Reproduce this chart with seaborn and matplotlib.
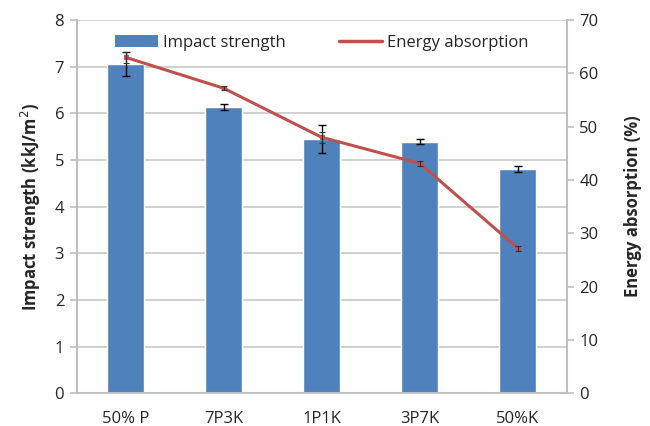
import numpy as np
import pandas as pd
import matplotlib.pyplot as plt
import seaborn as sns
from matplotlib.patches import Patch
from matplotlib.lines import Line2D

# Values
samples = ['50% P', '7P3K', '1P1K', '3P7K', '50%K']
impact = [7.06, 6.14, 5.45, 5.39, 4.81]
impact_err = [0.25, 0.06, 0.30, 0.05, 0.07]
energy = [63.0, 57.2, 48.0, 43.1, 27.2]
energy_err = [1.0, 0.4, 1.0, 0.4, 0.5]

df = pd.DataFrame({'Sample': samples, 'Impact': impact, 'Energy': energy})
df['pos'] = np.arange(len(samples))

sns.set_style("white")
plt.rcParams['font.family'] = ['Open Sans', 'DejaVu Sans']

bar_color = '#4F81BD'
line_color = '#C0504D'
axis_grey = '#BFBFBF'
fs = 12

fig = plt.figure(figsize=(6.5, 4.26), dpi=100)
ax = fig.add_axes([0.118, 0.077, 0.754, 0.876])

sns.barplot(data=df, x='Sample', y='Impact', color=bar_color, width=0.38,
            saturation=1, ax=ax, zorder=2)
ax.errorbar(df['pos'], df['Impact'], yerr=impact_err, fmt='none',
            ecolor='black', elinewidth=1, capsize=3, capthick=1, zorder=4)

ax.set_xlim(-0.5, len(samples) - 0.5)
ax.set_ylim(0, 8)
ax.set_yticks(range(0, 9))
ax.yaxis.grid(True, color='#C8C8C8', linewidth=1.2, zorder=0)
ax.set_axisbelow(True)
ax.set_xlabel('')
ax.set_ylabel('Impact strength (kkJ/m$^2$)', fontsize=fs, fontweight='bold', labelpad=8)

# category separators as ticks, like Excel
ax.set_xticks(np.arange(-0.5, len(samples), 1.0), minor=True)
ax.tick_params(axis='x', which='major', length=0, labelsize=fs, pad=13)
ax.tick_params(axis='x', which='minor', length=5, color=axis_grey, width=1.2)
ax.tick_params(axis='y', length=5, color=axis_grey, width=1.2, labelsize=fs, pad=4)

for side in ['left', 'bottom', 'right']:
    ax.spines[side].set_color(axis_grey)
    ax.spines[side].set_linewidth(1.5)
ax.spines['top'].set_visible(False)

ax2 = ax.twinx()
sns.lineplot(data=df, x='pos', y='Energy', color=line_color, linewidth=2.2,
             marker='s', markersize=3, markeredgecolor=line_color, ax=ax2, zorder=5)
ax2.errorbar(df['pos'], df['Energy'], yerr=energy_err, fmt='none',
             ecolor='#333333', elinewidth=0.8, capsize=2, capthick=0.8, zorder=6)
ax2.set_ylim(0, 70)
ax2.set_yticks(range(0, 71, 10))
ax2.set_xlim(-0.5, len(samples) - 0.5)
ax2.set_xlabel('')
ax2.set_ylabel('Energy absorption (%)', fontsize=fs, fontweight='bold', labelpad=18)
ax2.tick_params(axis='y', length=5, color=axis_grey, width=1.2, labelsize=fs, pad=4)
for side in ['left', 'bottom', 'right', 'top']:
    ax2.spines[side].set_visible(False)

handles = [Patch(facecolor=bar_color, edgecolor='none'),
           Line2D([0], [0], color=line_color, linewidth=2.5)]
ax.legend(handles, ['Impact strength', 'Energy absorption'], loc='upper center',
          bbox_to_anchor=(0.5, 1.0), ncol=2, frameon=False, fontsize=fs,
          handlelength=2.6, handleheight=0.7, columnspacing=3.2, handletextpad=0.3)

fig.savefig('out.png', dpi=100)
